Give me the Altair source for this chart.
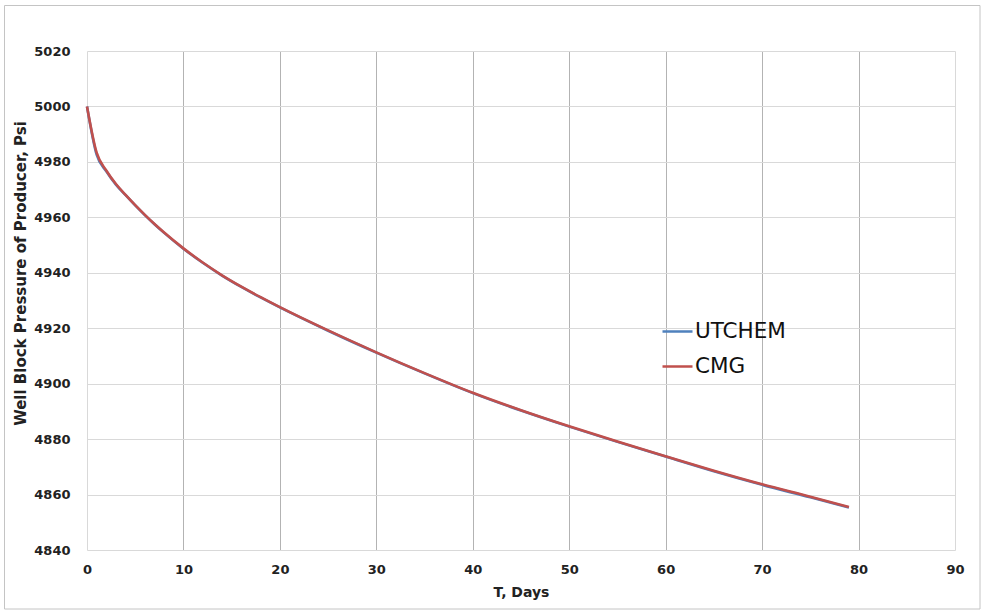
import altair as alt
import pandas as pd

# Well block pressure of the producer versus time, two simulators
days = [0, 1, 2, 3, 4, 5, 6, 7, 8, 10, 12, 14, 16, 18, 20, 25, 30, 35, 40,
        45, 50, 55, 60, 65, 70, 75, 79]
cmg_psi = [5000.0, 4983.3, 4976.9, 4972.0, 4968.1, 4964.4, 4960.9, 4957.6,
           4954.5, 4948.8, 4943.7, 4939.1, 4935.0, 4931.2, 4927.6, 4919.2,
           4911.3, 4903.8, 4896.7, 4890.4, 4884.6, 4879.1, 4873.8, 4868.6,
           4863.7, 4859.2, 4855.5]
utchem_psi = [5000.0, 4982.6, 4976.6, 4971.8, 4968.0, 4964.3, 4960.8, 4957.5,
              4954.4, 4948.7, 4943.6, 4939.0, 4934.9, 4931.1, 4927.5, 4919.1,
              4911.2, 4903.7, 4896.6, 4890.3, 4884.5, 4879.0, 4873.7, 4868.4,
              4863.5, 4859.0, 4855.3]

series_names = ["UTCHEM", "CMG"]
series_colors = ["#4f81bd", "#c0504d"]
x_ticks = list(range(0, 91, 10))
y_ticks = list(range(4840, 5021, 20))

utchem_df = pd.DataFrame({"day": days, "psi": utchem_psi, "series": "UTCHEM"})
cmg_df = pd.DataFrame({"day": days, "psi": cmg_psi, "series": "CMG"})

FONT = "DejaVu Sans"

x_enc = alt.X(
    "day:Q",
    scale=alt.Scale(domain=[0, 90], nice=False, zero=False),
    axis=alt.Axis(
        values=x_ticks, title="T, Days", domain=False, ticks=False,
        labelFlush=False,
        labelFont=FONT, labelFontSize=13, labelFontWeight="bold",
        labelColor="#222222", labelPadding=13,
        titleFont=FONT, titleFontSize=14, titleFontWeight="bold",
        titleColor="#222222", titlePadding=9,
        grid=True,
        gridColor={"condition": {"test": "datum.value == 0 || datum.value == 90",
                                 "value": "#d9d9d9"},
                   "value": "#b3b3b3"},
    ),
)
y_enc = alt.Y(
    "psi:Q",
    scale=alt.Scale(domain=[4840, 5020], nice=False, zero=False),
    axis=alt.Axis(
        values=y_ticks, title="Well Block Pressure of Producer, Psi",
        domain=False, ticks=False, format="d", labelFlush=False,
        labelFont=FONT, labelFontSize=13, labelFontWeight="bold",
        labelColor="#222222", labelPadding=17,
        titleFont=FONT, titleFontSize=15, titleFontWeight="bold",
        titleColor="#222222", titleX=-67, titleY=222,
        titleAlign="center", titleBaseline="middle",
        grid=True, gridColor="#d9d9d9",
    ),
)
color_enc = alt.Color(
    "series:N",
    scale=alt.Scale(domain=series_names, range=series_colors),
    legend=alt.Legend(
        title=None, orient="none", legendX=574, legendY=264,
        symbolType="stroke", symbolSize=900, symbolStrokeWidth=2.5,
        labelFont=FONT, labelFontSize=21.5, labelColor="#111111",
        labelOffset=1, rowPadding=8, padding=0,
    ),
)

frame = alt.Chart(alt.Data(values=[{}])).mark_rect(
    fillOpacity=0, stroke="#c4c4c4", strokeWidth=1
).encode(
    x=alt.value(-82.5), x2=alt.value(893), y=alt.value(-45.5), y2=alt.value(558)
)

utchem_line = alt.Chart(utchem_df).mark_line(
    strokeWidth=2.6, interpolate="monotone"
).encode(x=x_enc, y=y_enc, color=color_enc)

cmg_line = alt.Chart(cmg_df).mark_line(
    strokeWidth=2.6, interpolate="monotone"
).encode(x=x_enc, y=y_enc, color=color_enc)

chart = alt.layer(frame, utchem_line, cmg_line).properties(
    width=868, height=499,
    autosize="none",
    padding={"left": 87, "top": 51, "right": 29, "bottom": 61},
    background="white",
).configure_view(stroke=None)

chart.save("out.html", embed_options={"renderer": "svg", "actions": False})
